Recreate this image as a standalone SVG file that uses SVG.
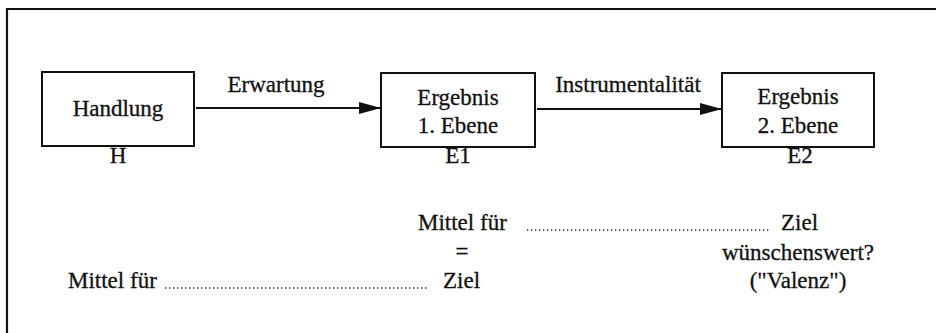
<svg xmlns="http://www.w3.org/2000/svg" width="936" height="333" viewBox="0 0 936 333">
<style>
text{font-family:"Liberation Serif","Times New Roman",serif;font-size:23px;fill:#111;stroke:#111;stroke-width:0.3}
.c{text-anchor:middle}
.box{fill:#fff;stroke:#111;stroke-width:2}
.edge{stroke:#111;stroke-width:2.2;fill:none}
.dots{stroke:#222;stroke-width:1.3;stroke-dasharray:1.3 2.7;fill:none}
</style>
<defs>
<marker id="arr" viewBox="0 0 22 12" refX="22" refY="6" markerWidth="22" markerHeight="12" markerUnits="userSpaceOnUse" orient="auto">
<path d="M0,0 L22,6 L0,12 Z" fill="#111"/>
</marker>
</defs>
<rect width="936" height="333" fill="#fff"/>
<path d="M7,333 V9 H936" fill="none" stroke="#111" stroke-width="2.2"/>
<g id="H">
<rect class="box" x="42" y="72" width="152" height="74"/>
<text class="c" x="118" y="116">Handlung</text>
<text class="c" x="118" y="163">H</text>
</g>
<g id="E1">
<rect class="box" x="381" y="73" width="154" height="74"/>
<text class="c" x="458" y="105">Ergebnis</text>
<text class="c" x="458" y="133">1. Ebene</text>
<text class="c" x="458" y="163">E1</text>
</g>
<g id="E2">
<rect class="box" x="722" y="73" width="152" height="74"/>
<text class="c" x="798" y="104">Ergebnis</text>
<text class="c" x="798" y="133">2. Ebene</text>
<text class="c" x="800" y="163">E2</text>
</g>
<g id="connectors">
<line class="edge" x1="196" y1="108" x2="381" y2="108" marker-end="url(#arr)"/>
<text class="c" x="276" y="92">Erwartung</text>
<line class="edge" x1="537" y1="109" x2="722" y2="109" marker-end="url(#arr)"/>
<text class="c" x="628" y="92">Instrumentalität</text>
</g>
<g id="notes">
<text x="418" y="230">Mittel für</text>
<line class="dots" x1="527" y1="230" x2="770" y2="230"/>
<text x="781" y="230">Ziel</text>
<text class="c" x="462" y="259">=</text>
<text class="c" x="798" y="260">wünschenswert?</text>
<text x="68" y="288">Mittel für</text>
<line class="dots" x1="165" y1="288" x2="428" y2="288"/>
<text x="443" y="288">Ziel</text>
<text class="c" x="798" y="288">("Valenz")</text>
</g>
</svg>
